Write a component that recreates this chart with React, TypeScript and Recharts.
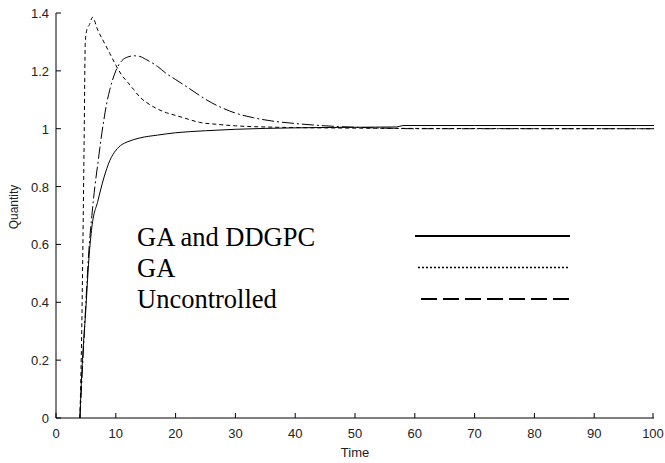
import { LineChart, Line, XAxis, YAxis } from 'recharts'

// time axis / value axis ticks
const xTicks = [0, 10, 20, 30, 40, 50, 60, 70, 80, 90, 100]
const yTicks = [0, 0.2, 0.4, 0.6, 0.8, 1, 1.2, 1.4]

// GA and DDGPC (solid)
const gaDdgpcTime = [4, 4.3, 5, 5.5, 6, 7, 8, 9, 10, 11, 12, 14, 17, 20, 25, 30, 40, 50, 57, 58, 70, 100]
const gaDdgpcValue = [0, 0.15, 0.38, 0.55, 0.66, 0.75, 0.83, 0.89, 0.925, 0.945, 0.955, 0.968, 0.978, 0.986, 0.993, 0.998, 1.003, 1.005, 1.006, 1.011, 1.011, 1.011]

// GA (short dashes)
const gaTime = [4, 4.3, 4.5, 4.7, 4.9, 5.2, 5.6, 6.1, 7, 8, 9, 10, 11, 12, 13, 14, 15.7, 17, 18.5, 20, 21.3, 24, 27, 30, 35, 40, 50, 60, 100]
const gaValue = [0, 0.3, 0.6, 0.95, 1.3, 1.345, 1.36, 1.385, 1.34, 1.3, 1.26, 1.22, 1.185, 1.16, 1.135, 1.11, 1.083, 1.068, 1.055, 1.046, 1.038, 1.022, 1.015, 1.01, 1.006, 1.004, 1.002, 1.001, 1.0]

// Uncontrolled (dash-dot)
const uncTime = [4, 4.5, 5, 5.5, 6, 6.5, 7, 7.5, 8, 8.5, 9, 10, 11, 12, 13, 14, 15, 17, 18.5, 20, 22, 24, 26, 28, 30, 33, 36, 40, 45, 50, 55, 60, 100]
const uncValue = [0, 0.2, 0.4, 0.58, 0.7, 0.8, 0.88, 0.96, 1.03, 1.09, 1.135, 1.2, 1.235, 1.248, 1.252, 1.25, 1.24, 1.215, 1.19, 1.17, 1.143, 1.115, 1.09, 1.07, 1.054, 1.038, 1.027, 1.018, 1.01, 1.005, 1.002, 1.0, 1.0]

const legendLabels = ['GA and DDGPC', 'GA', 'Uncontrolled']

const toRows = (t: number[], v: number[]) => t.map((time, i) => ({ t: time, v: v[i] }))

const tickFont = { fontFamily: 'Liberation Sans, Arial, sans-serif', fontSize: 13, fill: '#222' }

const BottomTick = (props: any) => {
  const { x, y, payload } = props
  return (
    <g>
      <line x1={x} y1={y} x2={x} y2={y - 5} stroke="#000" />
      <text x={x} y={y + 20} textAnchor="middle" {...tickFont}>{payload.value}</text>
    </g>
  )
}

const LeftTick = (props: any) => {
  const { x, y, payload } = props
  return (
    <g>
      <line x1={x} y1={y} x2={x + 5} y2={y} stroke="#000" />
      <text x={x - 7} y={y + 5} textAnchor="end" {...tickFont}>{payload.value}</text>
    </g>
  )
}

const TopTick = (props: any) => {
  const { x, y } = props
  return <line x1={x} y1={y} x2={x} y2={y + 5} stroke="#000" />
}

const RightTick = (props: any) => {
  const { x, y } = props
  return <line x1={x} y1={y} x2={x - 5} y2={y} stroke="#000" />
}

export default function App() {
  const dashes = ['none', '2 2', '16 6']
  return (
    <div style={{ position: 'absolute', left: 0, top: 0, background: '#fff' }}>
      <LineChart width={665} height={463} margin={{ top: 13, right: 11, bottom: 0, left: 0 }}>
        <XAxis
          dataKey="t"
          type="number"
          domain={[0, 100]}
          ticks={xTicks}
          height={45}
          tickSize={0}
          tickMargin={0}
          tickLine={false}
          axisLine={{ stroke: '#000' }}
          tick={<BottomTick />}
          allowDataOverflow
        />
        <XAxis
          xAxisId="top"
          orientation="top"
          type="number"
          domain={[0, 100]}
          ticks={xTicks}
          height={0}
          tickSize={0}
          tickMargin={0}
          tickLine={false}
          axisLine={{ stroke: '#000' }}
          tick={<TopTick />}
        />
        <YAxis
          type="number"
          domain={[0, 1.4]}
          ticks={yTicks}
          width={56}
          tickSize={0}
          tickMargin={0}
          tickLine={false}
          axisLine={{ stroke: '#000' }}
          tick={<LeftTick />}
          allowDataOverflow
        />
        <YAxis
          yAxisId="right"
          orientation="right"
          type="number"
          domain={[0, 1.4]}
          ticks={yTicks}
          width={0}
          tickSize={0}
          tickMargin={0}
          tickLine={false}
          axisLine={{ stroke: '#000' }}
          tick={<RightTick />}
        />
        <Line
          data={toRows(gaDdgpcTime, gaDdgpcValue)}
          dataKey="v"
          type="monotone"
          stroke="#000"
          strokeWidth={1}
          dot={false}
          isAnimationActive={false}
        />
        <Line
          data={toRows(gaTime, gaValue)}
          dataKey="v"
          type="monotone"
          stroke="#000"
          strokeWidth={1}
          strokeDasharray="4 3"
          dot={false}
          isAnimationActive={false}
        />
        <Line
          data={toRows(uncTime, uncValue)}
          dataKey="v"
          type="monotone"
          stroke="#000"
          strokeWidth={1}
          strokeDasharray="12 3 2 3"
          dot={false}
          isAnimationActive={false}
        />

        {/* axis titles */}
        <text x={355} y={457} textAnchor="middle" {...tickFont}>Time</text>
        <text x={18} y={207} textAnchor="middle" transform="rotate(-90 18 207)" {...tickFont} fontSize={12}>
          Quantity
        </text>

        {/* in-plot legend */}
        {legendLabels.map((label, i) => (
          <g key={label}>
            <text x={137} y={246 + i * 31} fontFamily="Liberation Serif, Times New Roman, serif" fontSize={26.5} fill="#000">
              {label}
            </text>
            <line
              x1={415 + i * 3}
              x2={570}
              y1={236 + i * 31.5}
              y2={236 + i * 31.5}
              stroke="#000"
              strokeWidth={i === 1 ? 1.5 : 2}
              strokeDasharray={dashes[i]}
            />
          </g>
        ))}
      </LineChart>
    </div>
  )
}
